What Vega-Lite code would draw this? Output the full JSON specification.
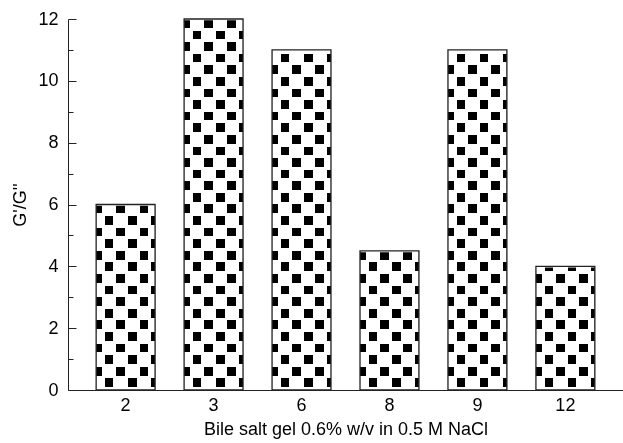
{
  "$schema": "https://vega.github.io/schema/vega-lite/v6.json",
  "width": 555,
  "height": 371,
  "autosize": {"type": "none"},
  "padding": {"left": 68, "top": 19, "right": 0, "bottom": 53},
  "background": "white",
  "data": {"values": [
    {"salt": "2", "ratio": 6},
    {"salt": "3", "ratio": 12},
    {"salt": "6", "ratio": 11},
    {"salt": "8", "ratio": 4.5},
    {"salt": "9", "ratio": 11},
    {"salt": "12", "ratio": 4}
  ]},
  "encoding": {
    "x": {"field": "salt", "type": "nominal", "sort": null,
      "scale": {"paddingInner": 0.33, "paddingOuter": 0.32},
      "axis": {"ticks": false, "labelAngle": 0, "labelPadding": 6, "title": "Bile salt gel 0.6% w/v in 0.5 M NaCl", "titlePadding": 6}}
  },
  "layer": [
    {
      "mark": {"type": "bar", "fill": {"gradient": "linear", "x1": 0, "y1": 0, "x2": 0, "y2": 1, "stops": [
        {"offset":0,"color":"black"},{"offset":0.03125,"color":"black"},{"offset":0.03125,"color":"white"},{"offset":0.0625,"color":"white"},
        {"offset":0.0625,"color":"black"},{"offset":0.09375,"color":"black"},{"offset":0.09375,"color":"white"},{"offset":0.125,"color":"white"},
        {"offset":0.125,"color":"black"},{"offset":0.15625,"color":"black"},{"offset":0.15625,"color":"white"},{"offset":0.1875,"color":"white"},
        {"offset":0.1875,"color":"black"},{"offset":0.21875,"color":"black"},{"offset":0.21875,"color":"white"},{"offset":0.25,"color":"white"},
        {"offset":0.25,"color":"black"},{"offset":0.28125,"color":"black"},{"offset":0.28125,"color":"white"},{"offset":0.3125,"color":"white"},
        {"offset":0.3125,"color":"black"},{"offset":0.34375,"color":"black"},{"offset":0.34375,"color":"white"},{"offset":0.375,"color":"white"},
        {"offset":0.375,"color":"black"},{"offset":0.40625,"color":"black"},{"offset":0.40625,"color":"white"},{"offset":0.4375,"color":"white"},
        {"offset":0.4375,"color":"black"},{"offset":0.46875,"color":"black"},{"offset":0.46875,"color":"white"},{"offset":0.5,"color":"white"},
        {"offset":0.5,"color":"black"},{"offset":0.53125,"color":"black"},{"offset":0.53125,"color":"white"},{"offset":0.5625,"color":"white"},
        {"offset":0.5625,"color":"black"},{"offset":0.59375,"color":"black"},{"offset":0.59375,"color":"white"},{"offset":0.625,"color":"white"},
        {"offset":0.625,"color":"black"},{"offset":0.65625,"color":"black"},{"offset":0.65625,"color":"white"},{"offset":0.6875,"color":"white"},
        {"offset":0.6875,"color":"black"},{"offset":0.71875,"color":"black"},{"offset":0.71875,"color":"white"},{"offset":0.75,"color":"white"},
        {"offset":0.75,"color":"black"},{"offset":0.78125,"color":"black"},{"offset":0.78125,"color":"white"},{"offset":0.8125,"color":"white"},
        {"offset":0.8125,"color":"black"},{"offset":0.84375,"color":"black"},{"offset":0.84375,"color":"white"},{"offset":0.875,"color":"white"},
        {"offset":0.875,"color":"black"},{"offset":0.90625,"color":"black"},{"offset":0.90625,"color":"white"},{"offset":0.9375,"color":"white"},
        {"offset":0.9375,"color":"black"},{"offset":0.96875,"color":"black"},{"offset":0.96875,"color":"white"},{"offset":1,"color":"white"}
      ]}},
      "encoding": {
        "y": {"datum": 12, "type": "quantitative", "title": "G'/G''", "scale": {"domain": [0, 12], "nice": false},
          "axis": {"values": [0,1,2,3,4,5,6,7,8,9,10,11,12], "labelExpr": "datum.value % 2 == 0 ? datum.label : ''", "tickSize": {"condition": {"test": "datum.value % 2 == 0", "value": -8}, "value": -5}, "labelPadding": 18, "titlePadding": 8}}
      }
    },
    {
      "mark": {"type": "bar", "blend": "difference", "fill": {"gradient": "linear", "x1": 0, "y1": 0, "x2": 1, "y2": 0, "stops": [
        {"offset":0,"color":"black"},{"offset":0.1466,"color":"black"},{"offset":0.1466,"color":"white"},{"offset":0.3432,"color":"white"},
        {"offset":0.3432,"color":"black"},{"offset":0.5398,"color":"black"},{"offset":0.5398,"color":"white"},{"offset":0.7364,"color":"white"},
        {"offset":0.7364,"color":"black"},{"offset":0.933,"color":"black"},{"offset":0.933,"color":"white"},{"offset":1,"color":"white"}
      ]}},
      "encoding": {
        "y": {"datum": 12, "type": "quantitative", "title": "G'/G''", "scale": {"domain": [0, 12], "nice": false},
          "axis": {"values": [0,1,2,3,4,5,6,7,8,9,10,11,12], "labelExpr": "datum.value % 2 == 0 ? datum.label : ''", "tickSize": {"condition": {"test": "datum.value % 2 == 0", "value": -8}, "value": -5}, "labelPadding": 18, "titlePadding": 8}}
      }
    },
    {
      "mark": {"type": "bar", "blend": "lighten", "fill": {"gradient": "linear", "x1": 0, "y1": 0, "x2": 0, "y2": 1, "stops": [
        {"offset":0,"color":"black"},{"offset":0.02345,"color":"black"},{"offset":0.02345,"color":"white"},{"offset":0.03125,"color":"white"},
        {"offset":0.03125,"color":"black"},{"offset":0.0547,"color":"black"},{"offset":0.0547,"color":"white"},{"offset":0.0625,"color":"white"},
        {"offset":0.0625,"color":"black"},{"offset":0.08595,"color":"black"},{"offset":0.08595,"color":"white"},{"offset":0.09375,"color":"white"},
        {"offset":0.09375,"color":"black"},{"offset":0.1172,"color":"black"},{"offset":0.1172,"color":"white"},{"offset":0.125,"color":"white"},
        {"offset":0.125,"color":"black"},{"offset":0.14845,"color":"black"},{"offset":0.14845,"color":"white"},{"offset":0.15625,"color":"white"},
        {"offset":0.15625,"color":"black"},{"offset":0.1797,"color":"black"},{"offset":0.1797,"color":"white"},{"offset":0.1875,"color":"white"},
        {"offset":0.1875,"color":"black"},{"offset":0.21095,"color":"black"},{"offset":0.21095,"color":"white"},{"offset":0.21875,"color":"white"},
        {"offset":0.21875,"color":"black"},{"offset":0.2422,"color":"black"},{"offset":0.2422,"color":"white"},{"offset":0.25,"color":"white"},
        {"offset":0.25,"color":"black"},{"offset":0.27345,"color":"black"},{"offset":0.27345,"color":"white"},{"offset":0.28125,"color":"white"},
        {"offset":0.28125,"color":"black"},{"offset":0.3047,"color":"black"},{"offset":0.3047,"color":"white"},{"offset":0.3125,"color":"white"},
        {"offset":0.3125,"color":"black"},{"offset":0.33595,"color":"black"},{"offset":0.33595,"color":"white"},{"offset":0.34375,"color":"white"},
        {"offset":0.34375,"color":"black"},{"offset":0.3672,"color":"black"},{"offset":0.3672,"color":"white"},{"offset":0.375,"color":"white"},
        {"offset":0.375,"color":"black"},{"offset":0.39845,"color":"black"},{"offset":0.39845,"color":"white"},{"offset":0.40625,"color":"white"},
        {"offset":0.40625,"color":"black"},{"offset":0.4297,"color":"black"},{"offset":0.4297,"color":"white"},{"offset":0.4375,"color":"white"},
        {"offset":0.4375,"color":"black"},{"offset":0.46095,"color":"black"},{"offset":0.46095,"color":"white"},{"offset":0.46875,"color":"white"},
        {"offset":0.46875,"color":"black"},{"offset":0.4922,"color":"black"},{"offset":0.4922,"color":"white"},{"offset":0.5,"color":"white"},
        {"offset":0.5,"color":"black"},{"offset":0.52345,"color":"black"},{"offset":0.52345,"color":"white"},{"offset":0.53125,"color":"white"},
        {"offset":0.53125,"color":"black"},{"offset":0.5547,"color":"black"},{"offset":0.5547,"color":"white"},{"offset":0.5625,"color":"white"},
        {"offset":0.5625,"color":"black"},{"offset":0.58595,"color":"black"},{"offset":0.58595,"color":"white"},{"offset":0.59375,"color":"white"},
        {"offset":0.59375,"color":"black"},{"offset":0.6172,"color":"black"},{"offset":0.6172,"color":"white"},{"offset":0.625,"color":"white"},
        {"offset":0.625,"color":"black"},{"offset":0.64845,"color":"black"},{"offset":0.64845,"color":"white"},{"offset":0.65625,"color":"white"},
        {"offset":0.65625,"color":"black"},{"offset":0.6797,"color":"black"},{"offset":0.6797,"color":"white"},{"offset":0.6875,"color":"white"},
        {"offset":0.6875,"color":"black"},{"offset":0.71095,"color":"black"},{"offset":0.71095,"color":"white"},{"offset":0.71875,"color":"white"},
        {"offset":0.71875,"color":"black"},{"offset":0.7422,"color":"black"},{"offset":0.7422,"color":"white"},{"offset":0.75,"color":"white"},
        {"offset":0.75,"color":"black"},{"offset":0.77345,"color":"black"},{"offset":0.77345,"color":"white"},{"offset":0.78125,"color":"white"},
        {"offset":0.78125,"color":"black"},{"offset":0.8047,"color":"black"},{"offset":0.8047,"color":"white"},{"offset":0.8125,"color":"white"},
        {"offset":0.8125,"color":"black"},{"offset":0.83595,"color":"black"},{"offset":0.83595,"color":"white"},{"offset":0.84375,"color":"white"},
        {"offset":0.84375,"color":"black"},{"offset":0.8672,"color":"black"},{"offset":0.8672,"color":"white"},{"offset":0.875,"color":"white"},
        {"offset":0.875,"color":"black"},{"offset":0.89845,"color":"black"},{"offset":0.89845,"color":"white"},{"offset":0.90625,"color":"white"},
        {"offset":0.90625,"color":"black"},{"offset":0.9297,"color":"black"},{"offset":0.9297,"color":"white"},{"offset":0.9375,"color":"white"},
        {"offset":0.9375,"color":"black"},{"offset":0.96095,"color":"black"},{"offset":0.96095,"color":"white"},{"offset":0.96875,"color":"white"},
        {"offset":0.96875,"color":"black"},{"offset":0.9922,"color":"black"},{"offset":0.9922,"color":"white"},{"offset":1,"color":"white"}
      ]}},
      "encoding": {
        "y": {"datum": 12, "type": "quantitative", "title": "G'/G''", "scale": {"domain": [0, 12], "nice": false},
          "axis": {"values": [0,1,2,3,4,5,6,7,8,9,10,11,12], "labelExpr": "datum.value % 2 == 0 ? datum.label : ''", "tickSize": {"condition": {"test": "datum.value % 2 == 0", "value": -8}, "value": -5}, "labelPadding": 18, "titlePadding": 8}}
      }
    },
    {
      "mark": {"type": "bar", "blend": "lighten", "fill": {"gradient": "linear", "x1": 0, "y1": 0, "x2": 1, "y2": 0, "stops": [
        {"offset":0,"color":"black"},{"offset":0.0975,"color":"black"},{"offset":0.0975,"color":"white"},{"offset":0.1466,"color":"white"},
        {"offset":0.1466,"color":"black"},{"offset":0.2941,"color":"black"},{"offset":0.2941,"color":"white"},{"offset":0.3432,"color":"white"},
        {"offset":0.3432,"color":"black"},{"offset":0.4907,"color":"black"},{"offset":0.4907,"color":"white"},{"offset":0.5398,"color":"white"},
        {"offset":0.5398,"color":"black"},{"offset":0.6873,"color":"black"},{"offset":0.6873,"color":"white"},{"offset":0.7364,"color":"white"},
        {"offset":0.7364,"color":"black"},{"offset":0.8839,"color":"black"},{"offset":0.8839,"color":"white"},{"offset":0.933,"color":"white"},
        {"offset":0.933,"color":"black"},{"offset":1,"color":"black"}
      ]}},
      "encoding": {
        "y": {"datum": 12, "type": "quantitative", "title": "G'/G''", "scale": {"domain": [0, 12], "nice": false},
          "axis": {"values": [0,1,2,3,4,5,6,7,8,9,10,11,12], "labelExpr": "datum.value % 2 == 0 ? datum.label : ''", "tickSize": {"condition": {"test": "datum.value % 2 == 0", "value": -8}, "value": -5}, "labelPadding": 18, "titlePadding": 8}}
      }
    },
    {
      "mark": {"type": "bar", "fill": "white", "stroke": "white", "strokeWidth": 2.5},
      "encoding": {
        "y": {"field": "ratio", "type": "quantitative", "title": "G'/G''", "scale": {"domain": [0, 12], "nice": false},
          "axis": {"values": [0,1,2,3,4,5,6,7,8,9,10,11,12], "labelExpr": "datum.value % 2 == 0 ? datum.label : ''", "tickSize": {"condition": {"test": "datum.value % 2 == 0", "value": -8}, "value": -5}, "labelPadding": 18, "titlePadding": 8}},
        "y2": {"datum": 12}
      }
    },
    {
      "mark": {"type": "bar", "fillOpacity": 0, "stroke": "#222", "strokeWidth": 1.3},
      "encoding": {
        "y": {"field": "ratio", "type": "quantitative", "title": "G'/G''", "scale": {"domain": [0, 12], "nice": false},
          "axis": {"values": [0,1,2,3,4,5,6,7,8,9,10,11,12], "labelExpr": "datum.value % 2 == 0 ? datum.label : ''", "tickSize": {"condition": {"test": "datum.value % 2 == 0", "value": -8}, "value": -5}, "labelPadding": 18, "titlePadding": 8}}
      }
    }
  ],
  "config": {
    "view": {"stroke": null},
    "axis": {
      "labelFont": "Liberation Sans", "titleFont": "Liberation Sans",
      "labelFontSize": 18, "titleFontSize": 18, "titleFontWeight": "normal",
      "labelColor": "black", "titleColor": "black",
      "domainColor": "#222", "tickColor": "#222", "domainWidth": 1, "tickWidth": 1, "grid": false
    }
  }
}
